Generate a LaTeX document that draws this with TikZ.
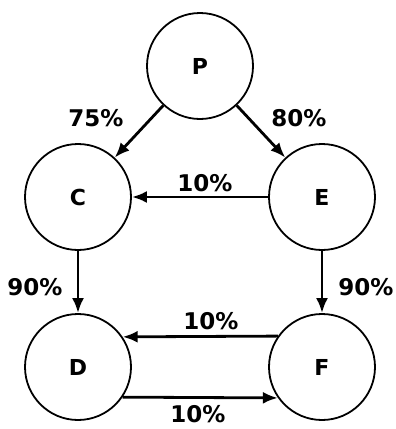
\documentclass[tikz,border=0pt]{standalone}
\usepackage{fontspec}
\setmainfont{DejaVu Sans}
\usetikzlibrary{arrows.meta}
\begin{document}
\begin{tikzpicture}[x=1pt,y=-1pt,
  state/.style={circle,draw,line width=1.8pt,minimum size=106pt,inner sep=0pt,font=\fontsize{22}{22}\selectfont\bfseries},
  flow/.style={line width=2.8pt,-{Latex[length=15pt,width=12pt]}},
  pct/.style={font=\fontsize{23}{23}\selectfont\bfseries,inner sep=0pt}]
  \fill[white] (0,0) rectangle (396,429);
  \useasboundingbox (0,0) rectangle (396,429);
  % states
  \node[state] (P) at (200,66) {P};
  \node[state] (C) at (78,197) {C};
  \node[state] (E) at (322,197) {E};
  \node[state] (D) at (78,367) {D};
  \node[state] (F) at (322,367) {F};
  % transfers
  \draw[flow] (P) -- (C);
  \draw[flow] (P) -- (E);
  \draw[flow] (E) -- (C);
  \draw[flow] (C) -- (D);
  \draw[flow] (E) -- (F);
  \draw[flow] (F.145.5) -- (D.34.5);
  \draw[flow] (D.-34.5) -- (F.-145.5);
  % rates
  \node[pct] (l75) at (96,118) {75\%};
  \node[pct] (l80) at (299,118) {80\%};
  \node[pct] (lec) at (205,183) {10\%};
  \node[pct] (lcd) at (35,287) {90\%};
  \node[pct] (lef) at (366,287) {90\%};
  \node[pct] (lfd) at (211,321) {10\%};
  \node[pct] (ldf) at (198,414) {10\%};
\end{tikzpicture}
\end{document}
